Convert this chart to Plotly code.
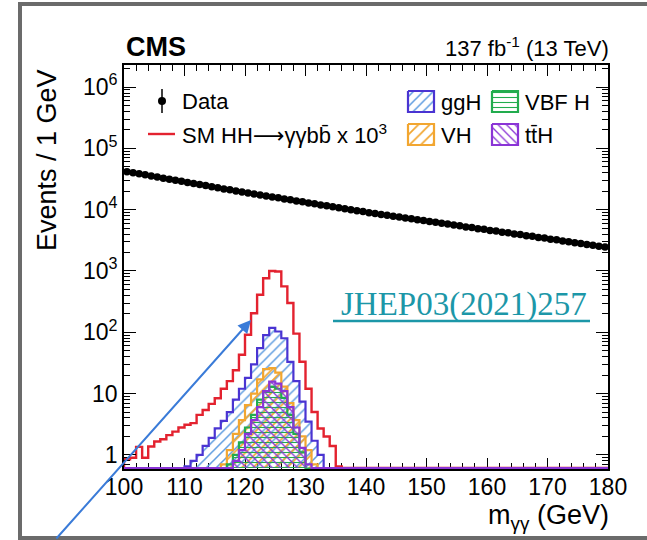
import numpy as np
import plotly.graph_objects as go

# ---------------------------------------------------------------------------
# Diphoton invariant mass spectrum, 1 GeV bins from 100 to 180 GeV
# ---------------------------------------------------------------------------
x_lo, x_hi = 100, 180
bin_edges = np.arange(x_lo, x_hi + 1)
bin_centres = bin_edges[:-1] + 0.5

# Observed events per bin
data_events = [
    41690, 40100, 38390, 37020, 35420, 34150, 32660, 31500, 30130, 29060,
    27810, 26820, 25640, 24750, 23650, 22830, 21820, 21070, 20120, 19440,
    18640, 18060, 17300, 16790, 16080, 15590, 14930, 14490, 13870, 13450,
    12890, 12500, 11970, 11610, 11120, 10790, 10320, 10020, 9600, 9310,
    8940, 8700, 8360, 8150, 7820, 7620, 7330, 7120, 6850, 6670,
    6410, 6240, 5990, 5840, 5600, 5460, 5240, 5110, 4900, 4780,
    4590, 4470, 4290, 4190, 4020, 3920, 3760, 3670, 3520, 3440,
    3300, 3220, 3090, 3010, 2890, 2820, 2700, 2640, 2530, 2460,
]

# SM HH -> gamma gamma b bbar signal, scaled by 10^3 (first bin = 100 GeV)
hh_first_bin = 100
hh_x1000 = [
    0.85, 0.9, 1.35, 0.9, 1.37, 1.65, 1.8, 2.1, 2.4, 2.8,
    3.1, 3.3, 4.5, 5.4, 6.8, 8.4, 12, 16, 24, 43,
    91, 205, 410, 760, 1000, 980, 560, 300, 95, 33,
    12, 5.0, 2.7, 2.0, 1.4, 0.65,
]

# Single-Higgs production modes
ggh_first_bin = 110
ggh_events = [0.65, 0.8, 1.0, 1.4, 1.9, 2.7, 3.6, 5.0, 8.0, 12,
              18, 30, 55, 90, 118, 103, 80, 33, 16, 7.4,
              3.5, 1.7, 1.0]

vh_first_bin = 116
vh_events = [0.7, 1.2, 2.2, 3.7, 6.5, 10, 17, 25, 26, 22,
             13, 7.0, 3.7, 2.0, 1.2, 0.7]

vbf_first_bin = 117
vbf_events = [0.7, 1.0, 1.6, 2.8, 4.5, 8.0, 11, 13, 12, 8.5,
              4.5, 2.2, 1.1, 0.6]

tth_first_bin = 118
tth_events = [0.8, 1.2, 2.2, 3.7, 6.0, 11, 15.7, 14.5, 11, 6.0,
              2.8, 1.3, 0.7]

# Axis ticks
x_ticks = [100, 110, 120, 130, 140, 150, 160, 170, 180]
y_ticks = [1, 10, 100, 1e3, 1e4, 1e5, 1e6]
y_tick_text = ["1", "10", "10<sup>2</sup>", "10<sup>3</sup>",
               "10<sup>4</sup>", "10<sup>5</sup>", "10<sup>6</sup>"]
y_log_range = [-0.23, 6.36]

# ---------------------------------------------------------------------------
# Page geometry (pixels)
# ---------------------------------------------------------------------------
W, H = 647, 540
frame_l, frame_r, frame_t, frame_b = 124, 608, 65, 469

FONT = "Liberation Sans"
RED = "#e3222f"
GGH_LINE, GGH_HATCH = "#4a34d2", "#5f9de0"
VBF_COL = "#22ac4e"
VH_COL = "#f2a630"
TTH_COL = "#8a34d6"
LINK_COL = "#1c97a8"

px_per_decade = (frame_b - frame_t) / (y_log_range[1] - y_log_range[0])
# empty bins are drawn along the bottom of the frame, as in ROOT
floor_val = 10 ** (y_log_range[0] + 1.0 / px_per_decade)


def full_hist(first_bin, values):
    h = np.zeros(len(bin_centres))
    i0 = first_bin - x_lo
    h[i0:i0 + len(values)] = values
    return h


def step_xy(h):
    y = np.where(h > 0, h, floor_val)
    xs = np.repeat(bin_edges, 2)[1:-1]
    ys = np.repeat(y, 2)
    xs = np.concatenate([[x_lo], xs, [x_hi]])
    ys = np.concatenate([[floor_val], ys, [floor_val]])
    return xs, ys


fig = go.Figure()

# HH signal (outline only)
xs, ys = step_xy(full_hist(hh_first_bin, hh_x1000))
fig.add_trace(go.Scatter(x=xs, y=ys, mode="lines",
                         line=dict(color=RED, width=2.4), hoverinfo="skip"))

# Hatched single-Higgs histograms
hatched = [
    (ggh_first_bin, ggh_events, GGH_LINE, GGH_HATCH, "/", 7),
    (vh_first_bin, vh_events, VH_COL, VH_COL, "/", 8),
    (vbf_first_bin, vbf_events, VBF_COL, VBF_COL, "-", 5),
    (tth_first_bin, tth_events, TTH_COL, TTH_COL, "\\", 6),
]
for first, vals, lcol, hcol, shape, size in hatched:
    xs, ys = step_xy(full_hist(first, vals))
    fig.add_trace(go.Scatter(
        x=xs, y=ys, mode="lines", fill="toself",
        fillcolor="rgba(0,0,0,0)",
        fillpattern=dict(shape=shape, fgcolor=hcol, bgcolor="rgba(0,0,0,0)",
                         size=size, solidity=0.22),
        line=dict(color=lcol, width=2.2), hoverinfo="skip"))

# Data points
fig.add_trace(go.Scatter(
    x=bin_centres, y=data_events, mode="markers",
    marker=dict(color="black", size=7.5),
    error_y=dict(type="data", array=np.sqrt(data_events), color="black",
                 thickness=1.2, width=0)))

# ---------------------------------------------------------------------------
# Legend glyphs drawn on a hidden full-page pixel axis (x3 / y3)
# ---------------------------------------------------------------------------
def page_trace(**kw):
    kw.setdefault("hoverinfo", "skip")
    return go.Scatter(xaxis="x3", yaxis="y3", **kw)


fig.add_trace(page_trace(x=[162, 162], y=[89, 113], mode="lines",
                         line=dict(color="black", width=1.5)))
fig.add_trace(page_trace(x=[162], y=[101], mode="markers",
                         marker=dict(color="black", size=8)))
fig.add_trace(page_trace(x=[148, 175], y=[134, 134], mode="lines",
                         line=dict(color=RED, width=2.4)))

legend_boxes = [
    (408, 91, GGH_LINE, GGH_HATCH, "/", 7, "ggH"),
    (492, 91, VBF_COL, VBF_COL, "-", 5, "VBF H"),
    (408, 124, VH_COL, VH_COL, "/", 8, "VH"),
    (492, 124, TTH_COL, TTH_COL, "\\", 6, "tt\u0304H"),
]
box_w, box_h = 26, 21
for bx, by, lcol, hcol, shape, size, _ in legend_boxes:
    fig.add_trace(page_trace(
        x=[bx, bx + box_w, bx + box_w, bx, bx],
        y=[by, by, by + box_h, by + box_h, by],
        mode="lines", fill="toself", fillcolor="rgba(0,0,0,0)",
        fillpattern=dict(shape=shape, fgcolor=hcol, bgcolor="rgba(0,0,0,0)",
                         size=size, solidity=0.22),
        line=dict(color=lcol, width=2.2)))

long_arrow = "<span style='font-family:DejaVu Sans'>\u27f6</span>"
annotations = [
    dict(x=180, y=101, text="Data", xanchor="left", font=dict(size=22)),
    dict(x=180, y=134,
         text="SM HH" + long_arrow + "\u03b3\u03b3bb\u0304 x 10<sup>3</sup>",
         xanchor="left", font=dict(size=22)),
    dict(x=124, y=47, text="<b>CMS</b>", xanchor="left", font=dict(size=27)),
    dict(x=611, y=47, text="137 fb<sup>-1</sup> (13 TeV)", xanchor="right",
         font=dict(size=22)),
    dict(x=47, y=160, text="Events / 1 GeV", textangle=-90,
         xanchor="center", font=dict(size=27)),
    dict(x=611, y=517, text="m<sub>\u03b3\u03b3</sub> (GeV)", xanchor="right",
         font=dict(size=27)),
    dict(x=464, y=304, text="JHEP03(2021)257", xanchor="center",
         font=dict(size=33, family="Liberation Serif", color=LINK_COL)),
]
for bx, by, _, _, _, _, label in legend_boxes:
    annotations.append(dict(x=bx + box_w + 5, y=by + box_h / 2 + 1, text=label,
                            xanchor="left", font=dict(size=22)))

for a in annotations:
    a.setdefault("yanchor", "middle")
    font = dict(family=FONT, color="black")
    font.update(a.pop("font", {}))
    fig.add_annotation(xref="x3", yref="y3", showarrow=False, font=font, **a)

# Pointer arrow
fig.add_annotation(xref="x3", yref="y3", axref="x3", ayref="y3",
                   x=251, y=320, ax=55, ay=540, text="", showarrow=True,
                   arrowhead=2, arrowsize=1.3, arrowwidth=2,
                   arrowcolor="#3a7bd8")

shapes = [
    # link underline
    dict(type="line", x0=333, x1=590, y0=321, y1=321,
         line=dict(color=LINK_COL, width=2.5)),
    # slide border
    dict(type="line", x0=20, x1=20, y0=3, y1=540,
         line=dict(color="#6b6b6b", width=4)),
    dict(type="line", x0=18, x1=647, y0=4, y1=4,
         line=dict(color="#6b6b6b", width=4)),
    dict(type="line", x0=18, x1=647, y0=538, y1=538,
         line=dict(color="#6b6b6b", width=4)),
]
for s in shapes:
    fig.add_shape(xref="x3", yref="y3", **s)

minor_y = [k * 10.0 ** n for n in range(-1, 7) for k in range(2, 10)]

axis_common = dict(showgrid=False, zeroline=False, showline=True,
                   linecolor="black", linewidth=1.8, mirror="allticks",
                   ticks="inside", tickcolor="black", tickwidth=1.3,
                   automargin=False,
                   tickfont=dict(family=FONT, size=23, color="black"))

fig.update_layout(
    width=W, height=H, template="none",
    margin=dict(l=0, r=0, t=0, b=0, pad=0),
    paper_bgcolor="white", plot_bgcolor="rgba(0,0,0,0)",
    showlegend=False,
    xaxis=dict(domain=[frame_l / W, frame_r / W], range=[x_lo, x_hi],
               tickmode="array", tickvals=x_ticks, ticklen=11,
               ticklabelstandoff=-4,
               minor=dict(dtick=2, tick0=100, ticks="inside", ticklen=6,
                          tickcolor="black", tickwidth=1.2, showgrid=False),
               layer="below traces", anchor="y", **axis_common),
    yaxis=dict(domain=[1 - frame_b / H, 1 - frame_t / H], type="log",
               range=y_log_range, tickmode="array", tickvals=y_ticks,
               ticktext=y_tick_text, ticklen=12,
               minor=dict(tickmode="array", tickvals=minor_y, ticks="inside",
                          ticklen=6, tickcolor="black", tickwidth=1.2,
                          showgrid=False),
               anchor="x", **axis_common),
    xaxis3=dict(domain=[0, 1], range=[0, W], visible=False, anchor="y3",
                fixedrange=True),
    yaxis3=dict(domain=[0, 1], range=[H, 0], visible=False, anchor="x3",
                fixedrange=True),
)

fig.write_html("out.html")
